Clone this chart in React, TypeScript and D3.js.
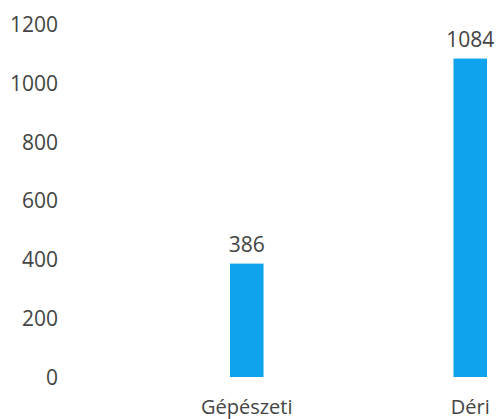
import React from "react";
import * as d3 from "d3";

const categories = ["Gépészeti", "Déri"];
const values = [386, 1084];
const tickValues = [0, 200, 400, 600, 800, 1000, 1200];

const W = 497;
const H = 419;

export default function App() {
  const y = d3.scaleLinear().domain([0, 1200]).range([377, 24.5]);
  const x = d3
    .scaleBand<string>()
    .domain(categories)
    .range([118.25, 598.75])
    .paddingInner(0.85)
    .paddingOuter(0.5);
  const font = "'Open Sans', sans-serif";
  const textColor = "#444444";
  return (
    <svg
      width={W}
      height={H}
      style={{ position: "absolute", left: 0, top: 0, background: "#fff" }}
      fontFamily={font}
    >
      {tickValues.map((t) => (
        <text
          key={t}
          x={58}
          y={y(t) + 7.5}
          textAnchor="end"
          fontSize={21}
          fill={textColor}
        >
          {t}
        </text>
      ))}
      {categories.map((c, i) => {
        const x0 = x(c)!;
        const bw = x.bandwidth();
        const top = y(values[i]);
        return (
          <g key={c}>
            <rect x={x0} y={top} width={bw} height={y(0) - top} fill="#0ea3ec" />
            <text
              x={x0 + bw / 2}
              y={top - 12}
              textAnchor="middle"
              fontSize={21}
              fill={textColor}
            >
              {values[i]}
            </text>
            <text
              x={x0 + bw / 2}
              y={413.5}
              textAnchor="middle"
              fontSize={20}
              fill={textColor}
            >
              {c}
            </text>
          </g>
        );
      })}
    </svg>
  );
}
